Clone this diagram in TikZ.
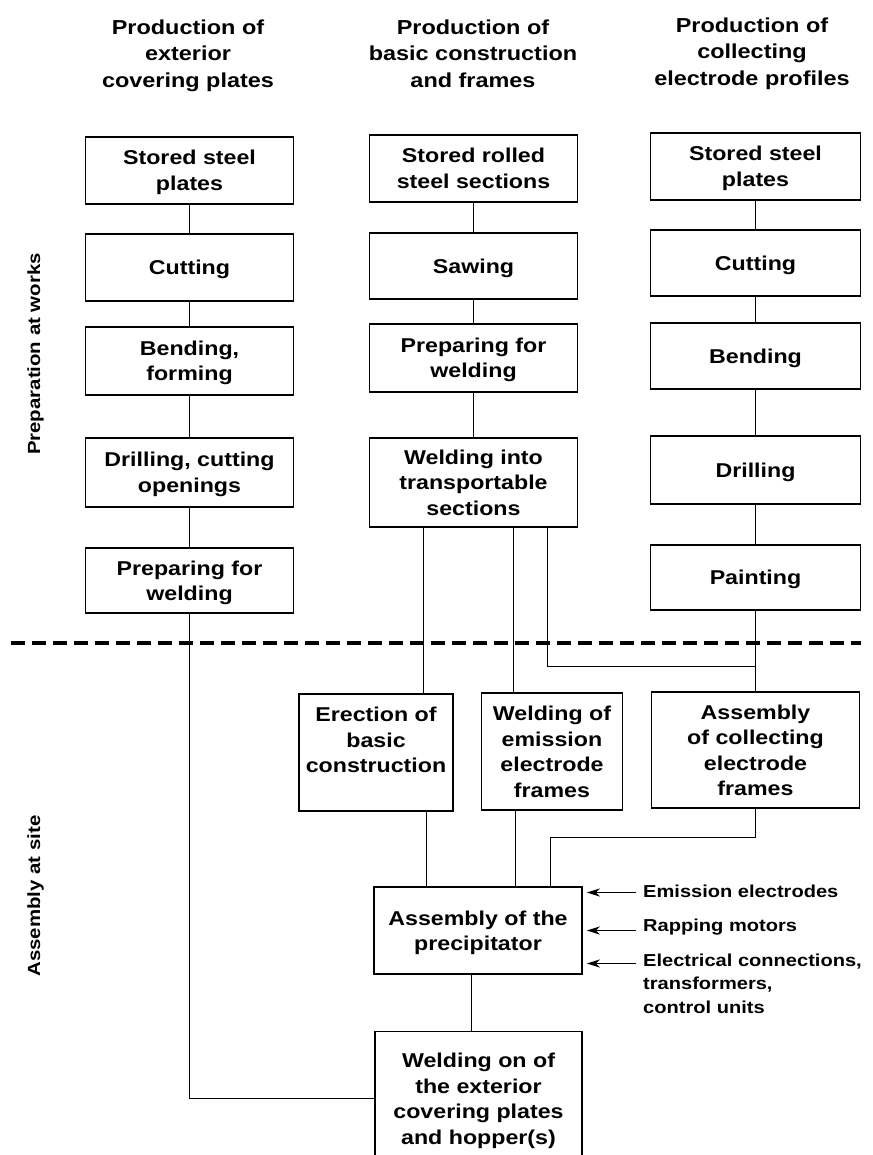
\documentclass[tikz,border=0pt]{standalone}
\usepackage{fontspec}
\setmainfont{Liberation Sans}[FakeStretch=1.16]
\usetikzlibrary{arrows.meta}

% type sizes used in the chart
\newcommand\flowboxfont{\bfseries\fontsize{20}{25.5}\selectfont}
\newcommand\colheadfont{\bfseries\fontsize{20.2}{26.5}\selectfont}
\newcommand\sidelabelfont{\bfseries\fontsize{17.3}{23.5}\selectfont}
\newcommand\phasefont{\bfseries\fontsize{17.6}{22}\selectfont}

\begin{document}
\begin{tikzpicture}[x=1pt,y=-1pt,
  every node/.style={inner sep=0pt, text=black},
  box/.style={draw, line width=1.5pt, align=center, text depth=-3pt, font=\flowboxfont},
  colhead/.style={anchor=north, align=center, font=\colheadfont},
  phase/.style={rotate=90, font=\phasefont},
  sidelabel/.style={anchor=base west, align=left, font=\sidelabelfont},
  conn/.style={line width=1.6pt},
  feed/.style={line width=1.5pt, -{Stealth[length=13pt,width=8pt,inset=4pt]}},
  divider/.style={line width=3.6pt, dash pattern=on 14pt off 7pt}]

\useasboundingbox (0,0) rectangle (872,1155);
\fill[white] (0,0) rectangle (872,1155);
\clip (0,0) rectangle (872,1155);

% column headings
\node[colhead] (h1) at (188,19.6) {Production of\\exterior\\covering plates};
\node[colhead] (h2) at (473,19.6) {Production of\\basic construction\\and frames};
\node[colhead] (h3) at (752,17.6) {Production of\\collecting\\electrode profiles};

% phase labels
\node[phase] (pw) at (35.5,354) {Preparation at works};
\node[phase] (ps) at (35.5,896) {Assembly at site};

% exterior covering plates
\node[box, minimum width=208pt, minimum height=67pt] (a1) at (189.5,170.5) {Stored steel\\plates};
\node[box, minimum width=208pt, minimum height=67pt] (a2) at (189.5,267.5) {Cutting};
\node[box, minimum width=208pt, minimum height=68pt] (a3) at (189.5,361) {Bending,\\forming};
\node[box, minimum width=208pt, minimum height=69pt] (a4) at (189.5,472.5) {Drilling, cutting\\openings};
\node[box, minimum width=208pt, minimum height=65pt] (a5) at (189.5,580.5) {Preparing for\\welding};

% basic construction and frames
\node[box, minimum width=208pt, minimum height=67pt] (b1) at (473.5,168.5) {Stored rolled\\steel sections};
\node[box, minimum width=208pt, minimum height=66pt] (b2) at (473.5,266) {Sawing};
\node[box, minimum width=208pt, minimum height=68pt] (b3) at (473.5,358) {Preparing for\\welding};
\node[box, minimum width=208pt, minimum height=89pt] (b4) at (473.5,482.5) {Welding into\\transportable\\sections};

% collecting electrode profiles
\node[box, minimum width=210pt, minimum height=67pt] (c1) at (755.5,166.5) {Stored steel\\plates};
\node[box, minimum width=210pt, minimum height=66pt] (c2) at (755.5,263) {Cutting};
\node[box, minimum width=210pt, minimum height=66pt] (c3) at (755.5,356) {Bending};
\node[box, minimum width=210pt, minimum height=68pt] (c4) at (755.5,470) {Drilling};
\node[box, minimum width=210pt, minimum height=65pt] (c5) at (755.5,577.5) {Painting};

% site assembly
\node[box, minimum width=154pt, minimum height=117pt] (er) at (376,752.5) {Erection of\\basic\\construction\\~};
\node[box, minimum width=141pt, minimum height=117pt] (we) at (552,751.5) {Welding of\\emission\\electrode\\frames};
\node[box, minimum width=208pt, minimum height=116pt] (cf) at (755.5,750) {Assembly\\of collecting\\electrode\\frames};
\node[box, minimum width=208pt, minimum height=87pt] (pr) at (478,930.5) {Assembly of the\\precipitator};
\node[box, minimum width=207pt, minimum height=134pt] (wo) at (478.5,1098.5) {Welding on of\\the exterior\\covering plates\\and hopper(s)};

% works / site divider
\coordinate (dl) at (11,643);
\coordinate (dr) at (861,643);
\draw[divider] (dl) -- (dr);

% chains within each column
\draw[conn] (a1.south) -- (a2.north);
\draw[conn] (a2.south) -- (a3.north);
\draw[conn] (a3.south) -- (a4.north);
\draw[conn] (a4.south) -- (a5.north);
\draw[conn] (b1.south) -- (b2.north);
\draw[conn] (b2.south) -- (b3.north);
\draw[conn] (b3.south) -- (b4.north);
\draw[conn] (c1.south) -- (c2.north);
\draw[conn] (c2.south) -- (c3.north);
\draw[conn] (c3.south) -- (c4.north);
\draw[conn] (c4.south) -- (c5.north);

% sections to the site
\coordinate (join) at (c5.south |- 0,666.5);
\draw[conn] ([xshift=-50pt]b4.south) -- ([xshift=-50pt]b4.south |- er.north);
\draw[conn] ([xshift=40pt]b4.south) -- ([xshift=40pt]b4.south |- we.north);
\draw[conn] ([xshift=74pt]b4.south) |- (join);
\draw[conn] (c5.south) -- (cf.north);

% into the precipitator
\draw[conn] ([xshift=50.5pt]er.south) -- ([xshift=50.5pt]er.south |- pr.north);
\draw[conn] ([xshift=-36.5pt]we.south) -- ([xshift=-36.5pt]we.south |- pr.north);
\draw[conn] (cf.south) |- ([xshift=72.5pt]pr.north |- 0,837.5) -- ([xshift=72.5pt]pr.north);
\draw[conn] ([xshift=-6.5pt]pr.south) -- ([xshift=-6.5pt]pr.south |- wo.north);
\draw[conn] (a5.south) |- (wo.west);

% supplies to the precipitator
\node[sidelabel] (le) at (643,897) {Emission electrodes};
\node[sidelabel] (lr) at (643,931) {Rapping motors};
\node[sidelabel] (lc) at (643,1013) {Electrical connections,\\transformers,\\control units};
\coordinate (te) at (636,892.5);
\coordinate (tr) at (636,930.5);
\coordinate (tc) at (636,963.5);
\draw[feed] (te) -- ([xshift=4pt]pr.east |- te);
\draw[feed] (tr) -- ([xshift=4pt]pr.east |- tr);
\draw[feed] (tc) -- ([xshift=4pt]pr.east |- tc);

\end{tikzpicture}
\end{document}
